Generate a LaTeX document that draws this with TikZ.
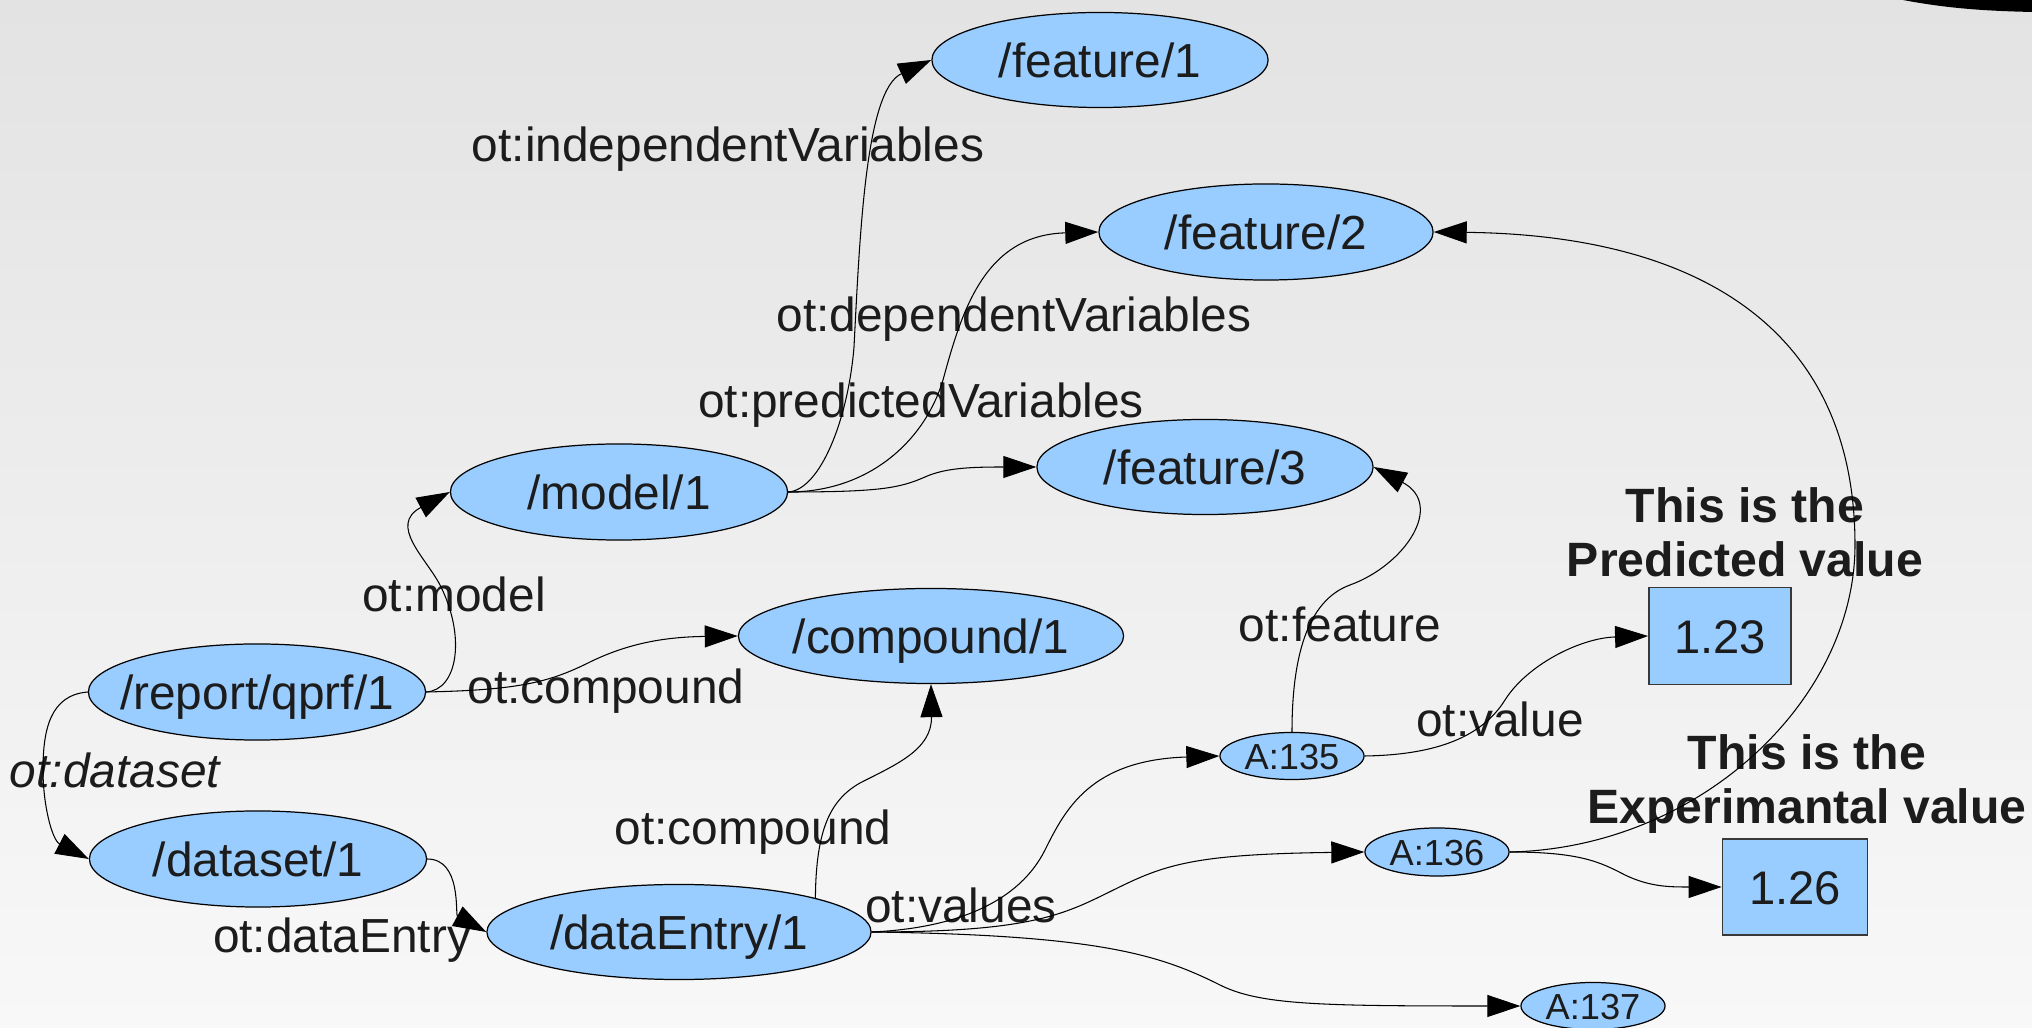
\documentclass[tikz,border=0pt]{standalone}
\usepackage{fontspec}
\setmainfont{Liberation Sans}
\usetikzlibrary{arrows.meta,shapes.geometric}
\definecolor{nodefill}{HTML}{99CCFF}
\definecolor{inktext}{HTML}{1C1C1C}
\definecolor{bgtop}{HTML}{E3E3E3}
\definecolor{bgbottom}{HTML}{F8F8F8}
% zero-width text so that the ellipse size is set only by its minimum size
\newcommand\zwtext[1]{\makebox[0pt][c]{#1}}
\tikzset{
  resource/.style={ellipse, draw=black, line width=0.35pt, fill=nodefill,
    inner sep=0pt, text=inktext, font=\fontsize{13.6}{16}\selectfont,
    text height=9.8pt, text depth=0pt},
  attr/.style={ellipse, draw=black, line width=0.35pt, fill=nodefill,
    inner sep=0pt, text=inktext, font=\fontsize{10.3}{12}\selectfont,
    text height=7.4pt, text depth=0pt, minimum width=1.44cm, minimum height=0.47cm},
  valbox/.style={rectangle, draw=black!78, line width=0.5pt, fill=nodefill,
    inner sep=0pt, text=inktext, font=\fontsize{13.4}{16}\selectfont,
    text height=9.7pt, text depth=0pt},
  rel/.style={text=inktext, font=\fontsize{13.6}{16}\selectfont, anchor=base, inner sep=0pt},
  % anchor=base sits on the baseline of the last line
  note/.style={text=inktext, font=\fontsize{13.7}{15.4}\selectfont\bfseries,
    align=center, anchor=base, inner sep=0pt},
  link/.style={draw=black, line width=0.3pt, -{Triangle[length=3.3mm,width=2.2mm]}}
}
\begin{document}
\begin{tikzpicture}[x=0.01cm, y=-0.01cm]
% canvas
\useasboundingbox (0,0) rectangle (2032,1028);
\shade[top color=bgtop, bottom color=bgbottom] (0,0) rectangle (2032,1028);
\fill[black] (1903,0) .. controls (1950,9) and (1990,11) .. (2032,12) -- (2032,0) -- cycle;

% resources
\node[resource, minimum width=3.36cm, minimum height=0.95cm] (f1) at (1100,60) {\zwtext{/feature/1}};
\node[resource, minimum width=3.34cm, minimum height=0.96cm] (f2) at (1266,232) {\zwtext{/feature/2}};
\node[resource, minimum width=3.36cm, minimum height=0.95cm] (f3) at (1205,467) {\zwtext{/feature/3}};
\node[resource, minimum width=3.37cm, minimum height=0.96cm] (model) at (619,492) {\zwtext{/model/1}};
\node[resource, minimum width=3.85cm, minimum height=0.95cm] (compound) at (931,636) {\zwtext{/compound/1}};
\node[resource, minimum width=3.37cm, minimum height=0.96cm] (report) at (257,692) {\zwtext{/report/qprf/1}};
\node[resource, minimum width=3.37cm, minimum height=0.96cm] (dataset) at (258,859) {\zwtext{/dataset/1}};
\node[resource, minimum width=3.84cm, minimum height=0.95cm] (entry) at (679,932) {\zwtext{/dataEntry/1}};
\node[attr] (a135) at (1292,756) {\zwtext{A:135}};
\node[attr, minimum height=0.48cm] (a136) at (1437,852) {\zwtext{A:136}};
\node[attr] (a137) at (1593,1006) {\zwtext{A:137}};
\node[valbox, minimum width=1.42cm, minimum height=0.97cm] (v123) at (1720,636) {1.23};
\node[valbox, minimum width=1.45cm, minimum height=0.96cm] (v126) at (1795,887) {1.26};

% relation labels
\node[rel] (lindep) at (728,162) {ot:independentVariables};
\node[rel] (ldep) at (1014,332) {ot:dependentVariables};
\node[rel] (lpred) at (921,418) {ot:predictedVariables};
\node[rel] (lmodel) at (454,612) {ot:model};
\node[rel] (lcomp) at (606,704) {ot:compound};
\node[rel, font=\fontsize{13.6}{16}\selectfont\itshape] (ldataset) at (115,788) {ot:dataset};
\node[rel] (lentry) at (342,953) {ot:dataEntry};
\node[rel] (lcomp2) at (753,845) {ot:compound};
\node[rel] (lvalues) at (961,923) {ot:values};
\node[rel] (lfeat) at (1340,642) {ot:feature};
\node[rel] (lvalue) at (1500,737) {ot:value};
\node[note] (npred) at (1745,577) {This is the\\Predicted value};
\node[note] (nexp) at (1807,824) {This is the\\Experimantal value};

% connectors
\draw[link] (model.east) .. controls (820,490) and (848,420) .. (854,347)
  .. controls (860,230) and (866,90) .. (f1.west);
\draw[link] (model.east) .. controls (870,492) and (925,440) .. (943,380)
  .. controls (962,310) and (985,235) .. (f2.west);
\draw[link] (model.east) .. controls (880,492) and (900,488) .. (925,477)
  .. controls (945,468) and (970,467) .. (f3.west);
\draw[link] (report.east) .. controls (458,690) and (466,636) .. (440,585)
  .. controls (426,558) and (388,525) .. (model.west);
\draw[link] (report.east) .. controls (520,690) and (550,682) .. (590,662)
  .. controls (625,645) and (660,637) .. (compound.west);
\draw[link] (report.west) .. controls (50,695) and (43,730) .. (43,770)
  .. controls (43,805) and (52,840) .. (dataset.west);
\draw[link] (dataset.east) .. controls (462,859) and (455,915) .. (entry.west);
\draw[link] (entry.14) .. controls (816,830) and (830,800) .. (860,783)
  .. controls (895,765) and (932,750) .. (compound.south);
\draw[link] (entry.east) .. controls (960,928) and (1020,900) .. (1045,850)
  .. controls (1065,810) and (1090,760) .. (a135.west);
\draw[link] (entry.east) .. controls (1050,932) and (1070,910) .. (1130,882)
  .. controls (1173,862) and (1210,854) .. (a136.west);
\draw[link] (entry.east) .. controls (1100,935) and (1160,955) .. (1220,985)
  .. controls (1260,1005) and (1320,1006) .. (a137.west);
\draw[link] (a135.north) .. controls (1292,660) and (1306,601) .. (1350,585)
  .. controls (1405,565) and (1445,505) .. (f3.east);
\draw[link] (a135.east) .. controls (1430,755) and (1480,740) .. (1505,700)
  .. controls (1527,665) and (1580,638) .. (v123.west);
\draw[link] (a136.east) .. controls (1580,852) and (1600,862) .. (1625,875)
  .. controls (1650,887) and (1670,887) .. (v126.west);
\draw[link] (a136.east) .. controls (1700,848) and (1855,700) .. (1855,545)
  .. controls (1855,330) and (1700,235) .. (f2.east);
\end{tikzpicture}
\end{document}
